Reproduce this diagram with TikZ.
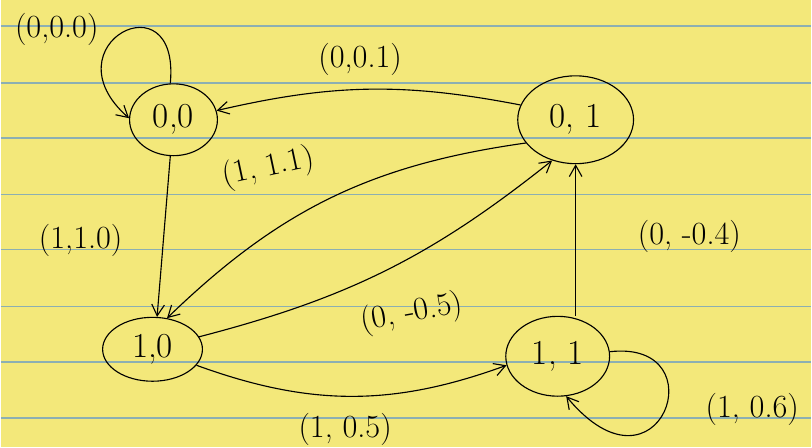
\documentclass[tikz,border=0pt]{standalone}
\usepackage{tikz}
\usetikzlibrary{arrows.meta,shapes.geometric}
\definecolor{padyellow}{RGB}{243,232,122}
\definecolor{ruleblue}{RGB}{140,175,178}
\tikzset{state/.style={draw,thick,ellipse,inner sep=0pt,font=\fontsize{25}{30}\selectfont},
  lab/.style={font=\fontsize{23}{28}\selectfont,inner sep=1pt},
  trans/.style={->,thick}}

\begin{document}
\begin{tikzpicture}[x=0.025cm,y=-0.025cm,>={Straight Barb[length=8pt,width=9pt]}]
% paper
\fill[padyellow] (0,0) rectangle (812,448);
\foreach \y in {26,83,138,195,250,307,363,419}
\draw[ruleblue,line width=1.2pt] (0,\y)--(812,\y);
\useasboundingbox (0,0) rectangle (812,448);
% states
\node[state,minimum width=2.2cm,minimum height=1.8cm] (s00) at (173,120) {0,0};
\node[state,minimum width=2.9cm,minimum height=2.2cm] (s01) at (576,120) {0, 1};
\node[state,minimum width=2.5cm,minimum height=1.6cm] (s10) at (152,350) {1,0};
\node[state,minimum width=2.6cm,minimum height=2.0cm] (s11) at (558,357) {1, 1};
% transitions
\draw[trans] (s00.95) .. controls (180,-25) and (45,45) .. (s00.178);
\draw[trans] (s01.165) to[bend right=12] (s00.12);
\draw[trans] (s00.265) -- (s10.82);
\draw[trans] (s01.205) to[bend right=18] (s10.65);
\draw[trans] (s10.15) to[bend right=12] (s01.240);
\draw[trans] (s10.340) to[bend right=20] (s11.190);
\draw[trans] (s01.south |- s11.north) -- (s01.south);
\draw[trans] (s11.5) .. controls (720,340) and (660,510) .. (s11.282);
% labels
\node[lab] (l1) at (56,30) {(0,0.0)};
\node[lab] (l2) at (360,60) {(0,0.1)};
\node[lab,rotate=12] (l3) at (268,168) {(1, 1.1)};
\node[lab] (l4) at (80,241) {(1,1.0)};
\node[lab,rotate=10] (l5) at (412,314) {(0, -0.5)};
\node[lab] (l6) at (345,430) {(1, 0.5)};
\node[lab] (l7) at (690,237) {(0, -0.4)};
\node[lab] (l8) at (753,410) {(1, 0.6)};
\end{tikzpicture}
\end{document}
